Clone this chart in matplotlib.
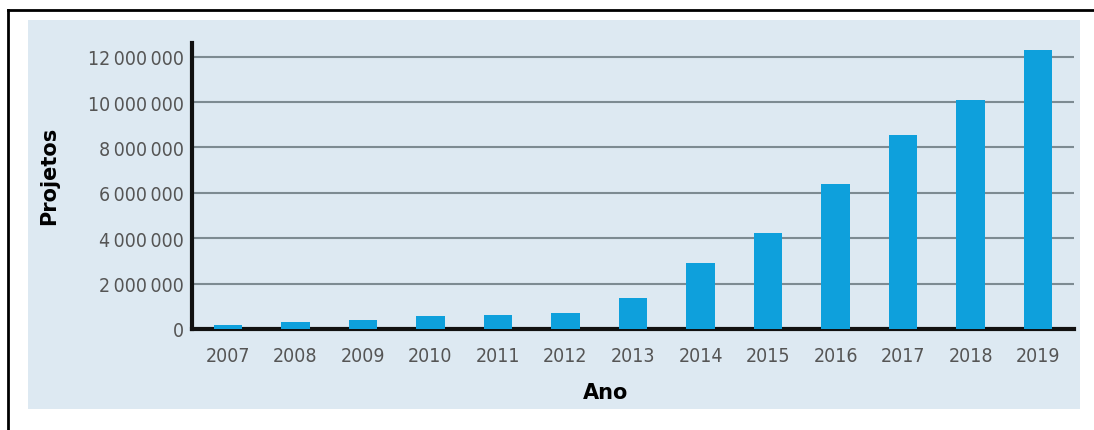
import matplotlib
matplotlib.use("Agg")
import matplotlib.pyplot as plt
from matplotlib.patches import Rectangle
from matplotlib.lines import Line2D
from matplotlib.ticker import FuncFormatter

years = ["2007", "2008", "2009", "2010", "2011", "2012", "2013",
         "2014", "2015", "2016", "2017", "2018", "2019"]
projetos = [180000, 300000, 400000, 570000, 620000, 700000, 1370000,
            2900000, 4240000, 6400000, 8560000, 10100000, 12270000]
yticks = [0, 2000000, 4000000, 6000000, 8000000, 10000000, 12000000]

W, H = 1094, 431
fig = plt.figure(figsize=(W / 100, H / 100), dpi=100)
fig.patch.set_facecolor("white")

# light blue panel and the outer frame
fig.add_artist(Rectangle((28 / W, 1 - 410 / H), (1080 - 28) / W, (410 - 21) / H,
                         transform=fig.transFigure, facecolor="#dde9f2",
                         edgecolor="none", zorder=0))
fig.add_artist(Line2D([8 / W, 1], [1 - 11 / H, 1 - 11 / H], transform=fig.transFigure,
                      color="black", lw=2))
fig.add_artist(Line2D([8 / W, 8 / W], [0, 1 - 11 / H], transform=fig.transFigure,
                      color="black", lw=2))

ax = fig.add_axes([192 / W, 1 - 330 / H, (1074 - 192) / W, (330 - 44) / H])
ax.set_facecolor("none")

x = range(len(years))
ax.bar(x, projetos, width=0.42, color="#0ea0dc", zorder=3)

ax.set_xlim(-0.53, len(years) - 0.47)
ax.set_ylim(0, 12600000)
ax.set_yticks(yticks)
ax.yaxis.set_major_formatter(FuncFormatter(lambda v, p: f"{int(v):,}".replace(",", "\u2009")))
ax.set_xticks(list(x))
ax.set_xticklabels(years)

ax.grid(axis="y", color="#7d8b92", lw=1.5, zorder=1)
for s in ["top", "right"]:
    ax.spines[s].set_visible(False)
ax.spines["left"].set_linewidth(3)
ax.spines["bottom"].set_linewidth(3)
ax.spines["left"].set_color("#111111")
ax.spines["bottom"].set_color("#111111")

ax.tick_params(axis="both", length=0, labelsize=14, colors="#555555")
ax.tick_params(axis="x", pad=12)
ax.tick_params(axis="y", pad=6)
for lab in ax.get_xticklabels() + ax.get_yticklabels():
    lab.set_fontstretch("condensed")

ax.set_xlabel("Ano", fontsize=15, fontweight="bold", color="black")
ax.set_ylabel("Projetos", fontsize=15, fontweight="bold", color="black")
ax.xaxis.set_label_coords(0.469, -0.185)
ax.yaxis.set_label_coords(-0.151, 0.54)

fig.savefig("out.png", dpi=100)
